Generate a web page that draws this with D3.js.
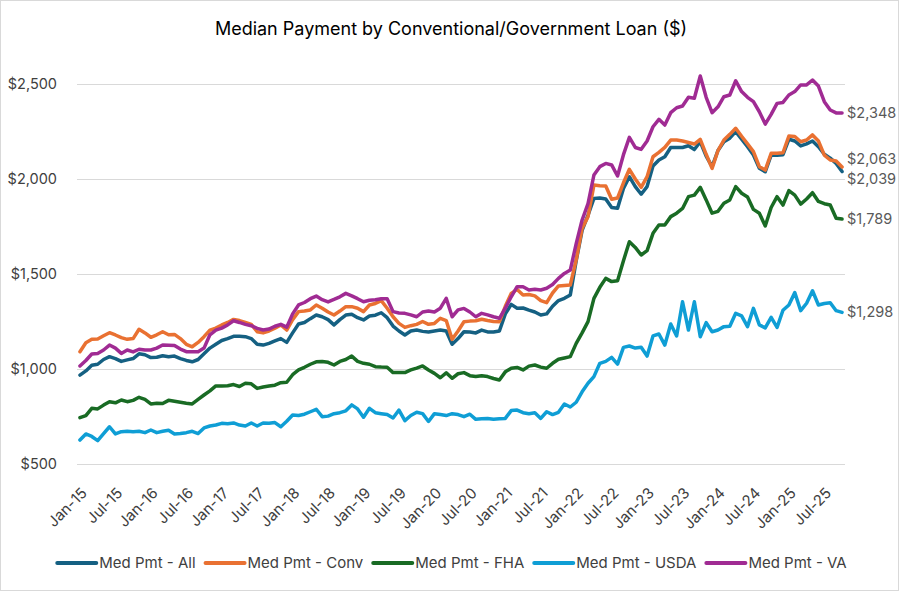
<!DOCTYPE html>
<html><head><meta charset="utf-8">
<script src="https://cdn.jsdelivr.net/npm/d3@7/dist/d3.min.js"></script>
<style>
html,body{margin:0;padding:0;background:#fff;}
svg text{font-family:Inter,"Noto Sans",sans-serif;}
</style></head>
<body>
<script>
const monthNames = ["Jan","Feb","Mar","Apr","May","Jun","Jul","Aug","Sep","Oct","Nov","Dec"];
const years = ["15","16","17","18","19","20","21","22","23","24","25"];
const categories = [];
years.forEach(y => monthNames.forEach(m => categories.push(m + "-" + y)));
categories.splice(130);
const tickLabels = ["Jan-15","Jul-15","Jan-16","Jul-16","Jan-17","Jul-17","Jan-18","Jul-18","Jan-19","Jul-19","Jan-20","Jul-20","Jan-21","Jul-21","Jan-22","Jul-22","Jan-23","Jul-23","Jan-24","Jul-24","Jan-25","Jul-25"];
const yTicks = [500,1000,1500,2000,2500];
const seriesNames = ["Med Pmt - All","Med Pmt - Conv","Med Pmt - FHA","Med Pmt - USDA","Med Pmt - VA"];
const seriesColors = ["#156082","#E97132","#196B24","#0F9ED5","#A02B93"];

const medAll = [968,990,1020,1025,1050,1065,1055,1040,1048,1055,1080,1075,
1060,1062,1070,1065,1068,1055,1045,1038,1050,1080,1110,1130,
1150,1160,1172,1172,1170,1160,1130,1126,1135,1148,1160,1140,
1190,1237,1245,1265,1284,1275,1260,1232,1260,1284,1288,1270,
1258,1279,1283,1296,1270,1226,1200,1179,1200,1205,1198,1195,
1200,1205,1200,1130,1160,1196,1195,1190,1205,1195,1195,1200,
1290,1340,1320,1321,1310,1300,1284,1290,1330,1360,1372,1390,
1570,1730,1810,1898,1900,1895,1850,1846,1950,2012,1960,1920,
1960,2068,2100,2117,2166,2166,2166,2175,2155,2196,2120,2065,
2150,2196,2215,2249,2210,2170,2126,2056,2038,2126,2125,2128,
2209,2200,2174,2185,2200,2170,2130,2110,2082,2039];

const medConv = [1091,1138,1156,1158,1175,1191,1179,1165,1156,1160,1209,1190,
1167,1180,1196,1180,1182,1160,1130,1117,1140,1170,1205,1215,
1232,1245,1261,1255,1245,1235,1196,1190,1200,1215,1232,1205,
1260,1302,1305,1311,1337,1320,1300,1284,1305,1328,1328,1320,
1302,1337,1345,1360,1320,1275,1240,1219,1228,1235,1250,1235,
1240,1267,1255,1156,1200,1249,1252,1254,1262,1255,1250,1249,
1330,1398,1419,1389,1392,1385,1360,1349,1400,1437,1440,1442,
1574,1740,1802,1968,1965,1963,1893,1900,1980,2051,2000,1956,
2012,2117,2140,2166,2205,2205,2200,2192,2184,2209,2130,2056,
2150,2205,2235,2267,2225,2185,2144,2065,2047,2135,2135,2138,
2226,2224,2196,2205,2232,2200,2126,2100,2095,2063];

const medFHA = [744,755,793,790,810,828,822,837,828,835,851,840,
816,820,818,835,830,825,820,816,840,863,885,911,
911,912,918,908,925,922,898,905,910,915,928,930,
970,995,1009,1025,1038,1040,1035,1021,1040,1050,1068,1040,
1030,1025,1012,1010,1009,981,981,981,995,1005,1016,995,
977,954,980,951,975,981,965,960,965,960,950,942,
985,1004,1008,995,1015,1021,1010,1004,1030,1051,1058,1065,
1135,1190,1249,1372,1430,1477,1460,1465,1570,1670,1640,1600,
1623,1714,1758,1758,1802,1820,1845,1907,1915,1956,1890,1820,
1830,1872,1890,1960,1925,1905,1840,1820,1753,1850,1907,1863,
1939,1915,1868,1895,1928,1882,1870,1863,1793,1789];

const medUSDA = [626,658,645,623,660,696,658,670,672,670,672,665,
679,665,672,678,658,660,665,672,660,690,700,705,
714,712,716,705,700,716,700,716,714,718,696,725,
758,755,762,775,788,749,752,765,770,780,811,790,
746,793,770,765,760,742,784,728,755,772,765,724,
765,760,755,765,760,749,762,735,738,740,735,738,
740,781,784,770,765,770,740,775,760,772,816,800,
825,880,925,960,1030,1040,1061,1026,1114,1121,1110,1114,
1068,1174,1184,1126,1237,1174,1354,1205,1354,1170,1244,1196,
1205,1223,1225,1293,1280,1223,1319,1232,1216,1272,1219,1309,
1337,1402,1307,1346,1412,1337,1345,1349,1307,1298];

const medVA = [1016,1045,1079,1082,1100,1126,1110,1082,1100,1090,1104,1100,
1100,1110,1126,1125,1124,1105,1091,1091,1091,1110,1180,1205,
1215,1232,1254,1245,1235,1228,1214,1205,1210,1225,1235,1220,
1290,1337,1350,1370,1384,1365,1353,1366,1380,1398,1385,1370,
1354,1362,1365,1370,1370,1302,1295,1293,1285,1275,1300,1305,
1300,1320,1372,1275,1311,1319,1300,1275,1293,1285,1275,1267,
1320,1380,1433,1433,1416,1420,1416,1425,1445,1477,1503,1521,
1660,1784,1870,2021,2065,2082,2074,2016,2128,2219,2166,2156,
2200,2275,2314,2284,2349,2375,2384,2430,2425,2542,2430,2349,
2380,2433,2442,2517,2460,2430,2407,2354,2289,2340,2398,2403,
2442,2460,2495,2495,2521,2489,2407,2363,2348,2348];

const seriesValues = [medAll, medConv, medFHA, medUSDA, medVA];

const W = 899, H = 591;
const svg = d3.select("body").append("svg").attr("width", W).attr("height", H);
svg.append("rect").attr("x",0.5).attr("y",0.5).attr("width",W-1).attr("height",H-1)
  .attr("fill","#fff").attr("stroke","#d9d9d9");

const x = d3.scaleBand().domain(categories).range([77, 845]);
const cx = c => x(c) + x.bandwidth()/2;
const y = d3.scaleLinear().domain([500, 2500]).range([464, 84]);

svg.append("text").attr("x", 451).attr("y", 35).attr("text-anchor","middle")
  .attr("font-size", 18).attr("fill","#000").text("Median Payment by Conventional/Government Loan ($)");

// grid
const yAxis = d3.axisLeft(y).tickValues(yTicks).tickSize(-(845-77)).tickFormat(d => "$" + d3.format(",")(d));
const gy = svg.append("g").attr("transform","translate(77,0)").call(yAxis);
gy.select(".domain").remove();
gy.selectAll(".tick line").attr("stroke","#d9d9d9").attr("stroke-width",1);
gy.selectAll(".tick text").attr("x",-20).attr("font-size",14.5).attr("fill","#404040")
  .style("font-family","Inter, 'Noto Sans', sans-serif");

// x axis labels
const xAxis = d3.axisBottom(x).tickValues(tickLabels).tickSize(0);
const gx = svg.append("g").attr("transform","translate(0,464)").call(xAxis);
gx.select(".domain").remove();
gx.selectAll(".tick text").attr("font-size",15).attr("fill","#404040")
  .attr("text-anchor","end").attr("dy",0).attr("y",0)
  .attr("transform","translate(8,30) rotate(-45)")
  .style("font-family","Inter, 'Noto Sans', sans-serif");

// lines
const line = d3.line().x((d,i) => cx(categories[i])).y(d => y(d)).curve(d3.curveLinear);
seriesValues.forEach((vals, k) => {
  svg.append("path").datum(vals).attr("d", line).attr("fill","none")
    .attr("stroke", seriesColors[k]).attr("stroke-width", 3.5)
    .attr("stroke-linejoin","round").attr("stroke-linecap","round");
});

// end labels
const last = categories[categories.length-1];
const labs = seriesValues.map((vals,k) => ({k, v: vals[vals.length-1], y: y(vals[vals.length-1])}));
labs.sort((a,b) => a.y - b.y);
for (let it=0; it<10; it++) {
  for (let i=1;i<labs.length;i++) {
    const gap = labs[i].y - labs[i-1].y;
    if (gap < 20) {
      const mid = (labs[i].y + labs[i-1].y)/2;
      labs[i-1].y = mid - 10; labs[i].y = mid + 10;
    }
  }
}
labs.forEach(l => {
  svg.append("text").attr("x", cx(last) + 5).attr("y", l.y).attr("dy","0.35em")
    .attr("font-size",14.5).attr("fill","#595959").text("$" + d3.format(",")(l.v));
});

// legend
const lg = svg.append("g");
let lx = 0;
seriesNames.forEach((n,k) => {
  const g = lg.append("g");
  g.append("line").attr("x1",0).attr("x2",39).attr("y1",0).attr("y2",0)
    .attr("stroke",seriesColors[k]).attr("stroke-width",4).attr("stroke-linecap","round");
  const t = g.append("text").attr("x",42).attr("y",0).attr("dy","0.35em")
    .attr("font-size",15).attr("fill","#404040").text(n);
  const w = 42 + t.node().getComputedTextLength();
  g.attr("transform",`translate(${lx},0)`);
  lx += w + 10;
});
const total = lx - 10;
lg.attr("transform",`translate(${452 - total/2},563)`);
</script>
</body></html>
